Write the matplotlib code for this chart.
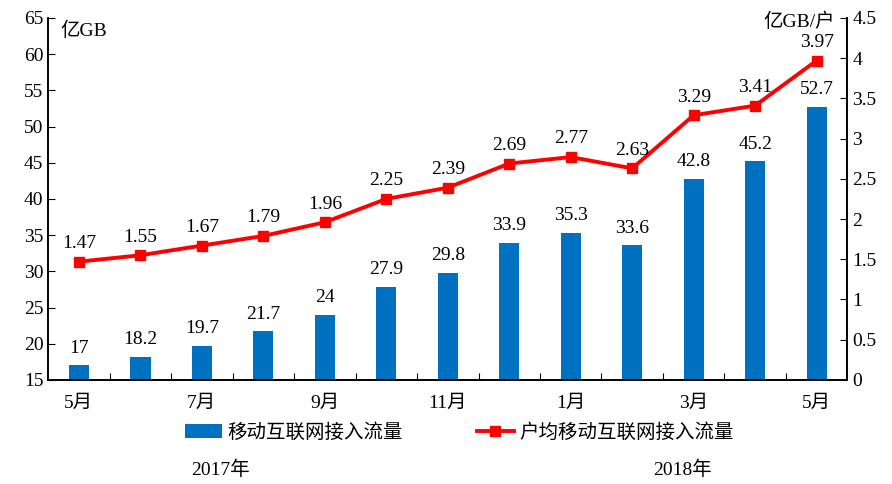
import matplotlib.pyplot as plt
import numpy as np

plt.rcParams['font.family'] = ['Liberation Serif', 'Noto Sans CJK SC']

months = ['5月', '6月', '7月', '8月', '9月', '10月', '11月', '12月', '1月', '2月', '3月', '4月', '5月']
traffic = [17, 18.2, 19.7, 21.7, 24, 27.9, 29.8, 33.9, 35.3, 33.6, 42.8, 45.2, 52.7]
per_user = [1.47, 1.55, 1.67, 1.79, 1.96, 2.25, 2.39, 2.69, 2.77, 2.63, 3.29, 3.41, 3.97]
bar_label = '移动互联网接入流量'
line_label = '户均移动互联网接入流量'

fs = 14

fig = plt.figure(figsize=(8.92, 4.84), dpi=100)
ax = fig.add_axes([0.054, 0.215, 0.896, 0.748])
ax2 = ax.twinx()

x = np.arange(len(months))
bars = ax.bar(x, traffic, width=0.33, color='#0070C0', label=bar_label, zorder=2)
ln, = ax2.plot(x, per_user, color='#FF0000', lw=2.8, marker='s', ms=6.5, label=line_label, zorder=3)

ax.set_ylim(15, 65)
ax.set_yticks(np.arange(15, 66, 5))
ax2.set_ylim(0, 4.5)
ax2.set_yticks(np.arange(0, 4.51, 0.5))
ax2.set_yticklabels(['0', '0.5', '1', '1.5', '2', '2.5', '3', '3.5', '4', '4.5'])
ax.set_xlim(-0.5, len(months) - 0.5)

# ticks between categories, labels every other month
ax.set_xticks(np.arange(0.5, len(months) - 0.5, 1))
ax.set_xticklabels([])
ax.set_xticks(x[::2], minor=True)
ax.set_xticklabels(months[::2], minor=True, fontsize=fs)
ax.tick_params(axis='x', which='major', direction='in', length=5)
ax.tick_params(axis='x', which='minor', length=0, pad=11)
ax.tick_params(axis='y', direction='in', length=5, labelsize=fs)
ax2.tick_params(axis='y', direction='in', length=5, labelsize=fs)

for a in (ax, ax2):
    a.spines['top'].set_visible(False)
    for s in ('left', 'right', 'bottom'):
        a.spines[s].set_linewidth(1.2)

for xi, v in zip(x, traffic):
    ax.text(xi, v + 1.2, f'{v:g}', ha='center', va='bottom', fontsize=fs)
for xi, v in zip(x, per_user):
    ax2.text(xi, v + 0.12, f'{v:g}', ha='center', va='bottom', fontsize=fs)

ax.text(0.015, 0.99, '亿GB', transform=ax.transAxes, ha='left', va='top', fontsize=fs)
ax2.text(0.985, 1.015, '亿GB/户', transform=ax2.transAxes, ha='right', va='top', fontsize=fs)

fig.legend([bars, ln], [bar_label, line_label], loc='center', bbox_to_anchor=(0.515, 0.107),
           ncol=2, frameon=False, fontsize=fs, handlelength=1.9, columnspacing=3.8,
           handletextpad=0.3)

fig.text(0.247, 0.03, '2017年', ha='center', va='center', fontsize=fs)
fig.text(0.765, 0.03, '2018年', ha='center', va='center', fontsize=fs)

fig.savefig('out.png', dpi=100)
